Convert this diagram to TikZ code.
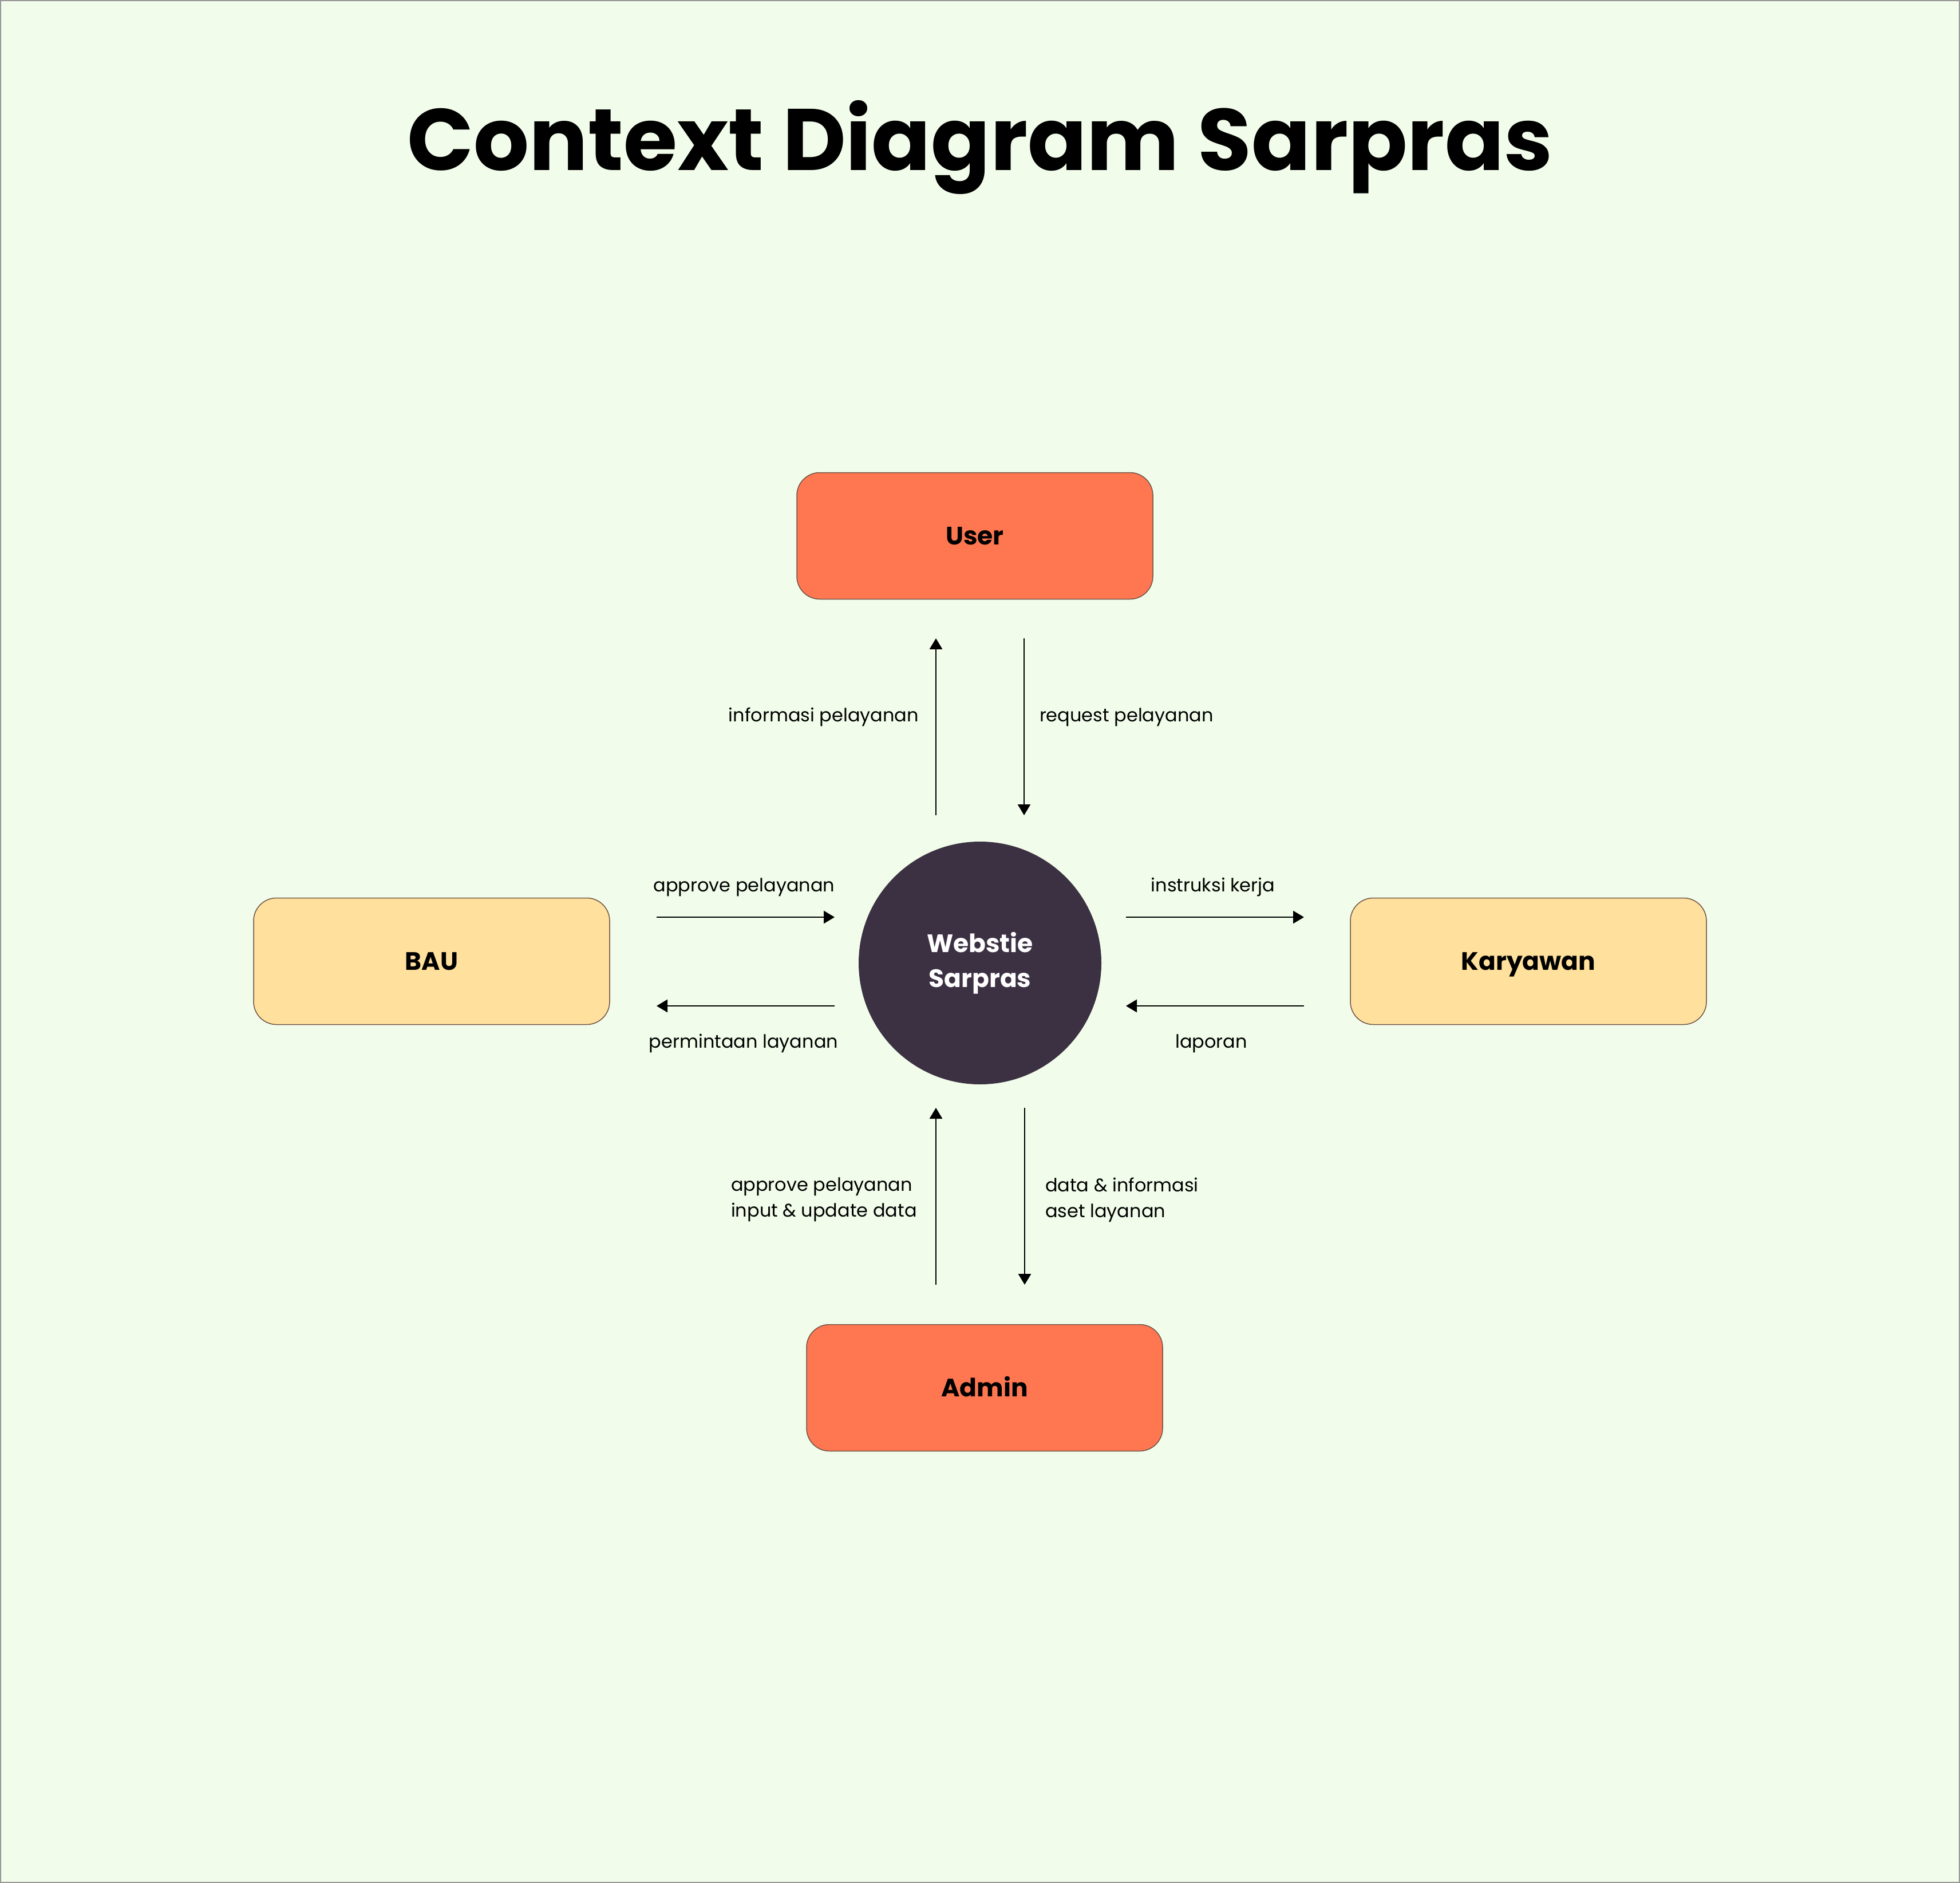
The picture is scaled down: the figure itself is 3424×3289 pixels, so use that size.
\documentclass[tikz,border=0pt]{standalone}
\usepackage{fontspec}
\setmainfont{Poppins}
\usetikzlibrary{arrows.meta}
\definecolor{bgmint}{RGB}{241,253,234}
\definecolor{framegray}{RGB}{150,150,150}
\definecolor{coral}{RGB}{255,119,81}
\definecolor{sand}{RGB}{255,224,156}
\definecolor{plum}{RGB}{60,48,67}
\definecolor{edgebrown}{RGB}{112,84,72}
\begin{document}
\begin{tikzpicture}[x=.2pt,y=-.2pt,
  entity/.style={rounded corners=8pt,draw=edgebrown,line width=0.3pt,
    minimum width=124.4pt,minimum height=44.2pt,inner sep=0pt,
    font=\bfseries\fontsize{8.8}{10.5}\selectfont,text height=6.3pt,text depth=0pt},
  process/.style={circle,fill=plum,minimum size=84.8pt,inner sep=0pt,text=white,
    align=center,font=\bfseries\fontsize{8.8}{12.2}\selectfont},
  flowlabel/.style={inner sep=0pt,align=left,font=\fontsize{6.4}{9}\selectfont},
  flow/.style={-{Triangle[length=3.8pt,width=4.4pt]},line width=0.55pt}]
\path[use as bounding box] (0,0) rectangle (3424,3289);
\path[fill=bgmint,draw=framegray,line width=0.5pt] (1,1) rectangle (3423,3288);
\node[anchor=base,inner sep=0pt,font=\bfseries\fontsize{30.5}{36}\selectfont] (title) at (1712,298) {Context Diagram Sarpras};
% entities and process
\node[entity,fill=coral] (user) at (1703,936) {User};
\node[entity,fill=sand] (bau) at (754,1679) {BAU};
\node[entity,fill=sand] (karyawan) at (2670,1679) {Karyawan};
\node[entity,fill=coral] (admin) at (1720,2424) {Admin};
\node[process] (web) at (1712,1682) {Webstie\\Sarpras};
% arrow ends
\coordinate (infoA) at (1635,1424); \coordinate (infoB) at (1635,1115);
\coordinate (reqA) at (1789,1115); \coordinate (reqB) at (1789,1424);
\coordinate (apprA) at (1147,1602); \coordinate (apprB) at (1458,1602);
\coordinate (mintaA) at (1458,1757); \coordinate (mintaB) at (1147,1757);
\coordinate (instrA) at (1967,1602); \coordinate (instrB) at (2278,1602);
\coordinate (lapA) at (2278,1757); \coordinate (lapB) at (1967,1757);
\coordinate (inputA) at (1635,2244); \coordinate (inputB) at (1635,1935);
\coordinate (dataA) at (1790,1935); \coordinate (dataB) at (1790,2244);
\draw[flow] (infoA) -- (infoB);
\draw[flow] (reqA) -- (reqB);
\draw[flow] (apprA) -- (apprB);
\draw[flow] (mintaA) -- (mintaB);
\draw[flow] (instrA) -- (instrB);
\draw[flow] (lapA) -- (lapB);
\draw[flow] (inputA) -- (inputB);
\draw[flow] (dataA) -- (dataB);
% flow labels
\node[flowlabel,anchor=base east] (infolbl) at (1606,1260) {informasi pelayanan};
\node[flowlabel,anchor=base west] (reqlbl) at (1815,1260) {request pelayanan};
\node[flowlabel,anchor=base] (apprlbl) at (1300,1557) {approve pelayanan};
\node[flowlabel,anchor=base] (mintalbl) at (1299,1830) {permintaan layanan};
\node[flowlabel,anchor=base] (instrlbl) at (2119,1557) {instruksi kerja};
\node[flowlabel,anchor=base] (laplbl) at (2116,1830) {laporan};
\node[flowlabel,anchor=north west] (inputlbl) at (1276,2056) {approve pelayanan\\input \& update data};
\node[flowlabel,anchor=north west] (datalbl) at (1825,2056) {data \& informasi\\aset layanan};
\end{tikzpicture}
\end{document}
